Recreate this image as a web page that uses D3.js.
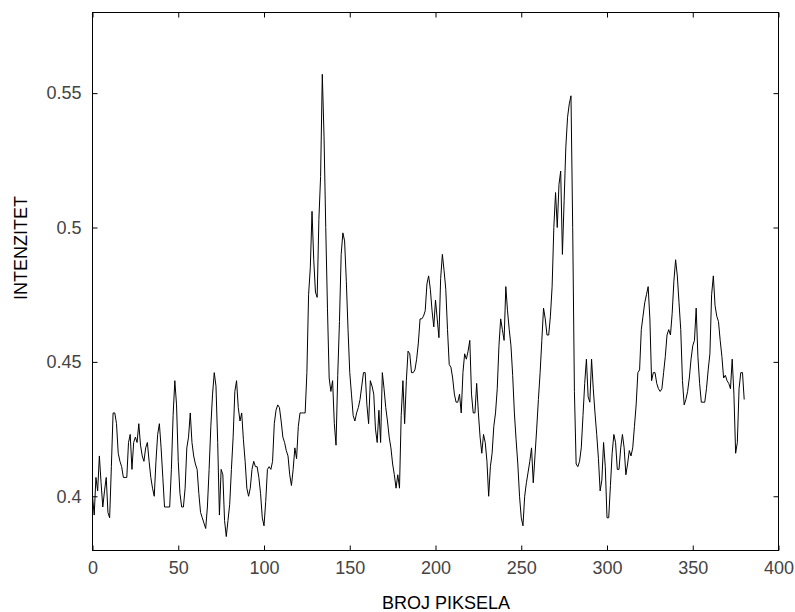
<!DOCTYPE html>
<html>
<head>
<meta charset="utf-8">
<script src="https://cdn.jsdelivr.net/npm/d3@7"></script>
<style>
  body { margin: 0; background: #fff; }
  text { font-family: "Liberation Sans", Arial, sans-serif; }
</style>
</head>
<body>
<svg id="SVG_CONTAINER" width="795" height="612"></svg>
<script>
// intensity profile along the pixel line, index = pixel number
const intensity = [
  0.400, 0.393, 0.407, 0.402, 0.415, 0.405, 0.396, 0.402, 0.407, 0.394,
  0.392, 0.411, 0.431, 0.431, 0.427, 0.416, 0.413, 0.411, 0.407, 0.407,
  0.407, 0.420, 0.423, 0.410, 0.420, 0.422, 0.420, 0.427, 0.419, 0.415,
  0.413, 0.418, 0.420, 0.413, 0.407, 0.403, 0.400, 0.413, 0.423, 0.427,
  0.418, 0.407, 0.396, 0.396, 0.396, 0.396, 0.410, 0.430, 0.443, 0.434,
  0.413, 0.401, 0.396, 0.396, 0.403, 0.418, 0.422, 0.431, 0.420, 0.415,
  0.412, 0.410, 0.401, 0.394, 0.392, 0.390, 0.388, 0.396, 0.410, 0.426,
  0.438, 0.446, 0.441, 0.420, 0.393, 0.410, 0.408, 0.391, 0.385, 0.391,
  0.397, 0.410, 0.422, 0.439, 0.443, 0.433, 0.428, 0.431, 0.421, 0.413,
  0.403, 0.400, 0.403, 0.410, 0.413, 0.411, 0.411, 0.407, 0.401, 0.392,
  0.389, 0.398, 0.410, 0.411, 0.410, 0.413, 0.427, 0.432, 0.434, 0.433,
  0.428, 0.422, 0.420, 0.417, 0.415, 0.408, 0.404, 0.410, 0.418, 0.414,
  0.426, 0.431, 0.431, 0.431, 0.431, 0.446, 0.475, 0.485, 0.506, 0.488,
  0.476, 0.474, 0.503, 0.519, 0.557, 0.534, 0.500, 0.470, 0.444, 0.439,
  0.443, 0.427, 0.419, 0.445, 0.465, 0.490, 0.498, 0.495, 0.480, 0.462,
  0.446, 0.438, 0.430, 0.428, 0.431, 0.433, 0.436, 0.441, 0.446, 0.446,
  0.434, 0.427, 0.443, 0.441, 0.438, 0.425, 0.420, 0.432, 0.420, 0.446,
  0.440, 0.433, 0.428, 0.422, 0.418, 0.412, 0.408, 0.403, 0.408, 0.403,
  0.430, 0.443, 0.427, 0.443, 0.454, 0.453, 0.446, 0.446, 0.447, 0.451,
  0.457, 0.466, 0.466, 0.467, 0.469, 0.479, 0.482, 0.477, 0.469, 0.463,
  0.473, 0.466, 0.459, 0.481, 0.490, 0.484, 0.477, 0.462, 0.449, 0.448,
  0.444, 0.438, 0.435, 0.435, 0.438, 0.431, 0.446, 0.453, 0.451, 0.454,
  0.458, 0.438, 0.431, 0.431, 0.442, 0.431, 0.422, 0.416, 0.423, 0.420,
  0.413, 0.400, 0.411, 0.416, 0.426, 0.431, 0.440, 0.456, 0.466, 0.462,
  0.458, 0.478, 0.469, 0.462, 0.456, 0.445, 0.431, 0.421, 0.412, 0.400,
  0.392, 0.389, 0.400, 0.405, 0.409, 0.413, 0.418, 0.405, 0.415, 0.425,
  0.436, 0.446, 0.458, 0.470, 0.466, 0.460, 0.460, 0.467, 0.478, 0.500,
  0.513, 0.500, 0.516, 0.521, 0.490, 0.510, 0.530, 0.541, 0.546, 0.549,
  0.500, 0.439, 0.412, 0.411, 0.413, 0.418, 0.430, 0.442, 0.451, 0.437,
  0.435, 0.451, 0.440, 0.431, 0.423, 0.414, 0.402, 0.406, 0.420, 0.411,
  0.392, 0.392, 0.404, 0.416, 0.423, 0.420, 0.410, 0.410, 0.418, 0.423,
  0.418, 0.408, 0.412, 0.417, 0.415, 0.418, 0.426, 0.434, 0.446, 0.447,
  0.462, 0.467, 0.472, 0.475, 0.478, 0.466, 0.443, 0.446, 0.446, 0.442,
  0.440, 0.439, 0.440, 0.446, 0.452, 0.460, 0.462, 0.460, 0.468, 0.480,
  0.488, 0.482, 0.472, 0.462, 0.443, 0.434, 0.436, 0.439, 0.444, 0.451,
  0.456, 0.458, 0.470, 0.452, 0.442, 0.435, 0.435, 0.435, 0.440, 0.447,
  0.453, 0.475, 0.482, 0.471, 0.467, 0.465, 0.458, 0.452, 0.444, 0.445,
  0.443, 0.442, 0.440, 0.451, 0.438, 0.416, 0.420, 0.440, 0.446, 0.446,
  0.436
];

const xTicks = [0, 50, 100, 150, 200, 250, 300, 350, 400];
const yTicks = [0.4, 0.45, 0.5, 0.55];
const xLabel = "BROJ PIKSELA";
const yLabel = "INTENZITET";

const BOX = { LEFT: 92.5, RIGHT: 778.5, TOP: 12.5, BOTTOM: 550.5 };

let svg = d3.select("#SVG_CONTAINER");

let xScale = d3.scaleLinear().domain([0, 400]).range([BOX.LEFT, BOX.RIGHT]);
let yScale = d3.scaleLinear().domain([0.38, 0.58]).range([550, BOX.TOP]);

//axes with inward ticks, MATLAB style box
let fmt = d => (d === 0.4 || d === 0.5) ? d3.format(".1f")(d) : d3.format(".2f")(d);

svg.append("g")
    .attr("transform", "translate(0," + BOX.BOTTOM + ")")
    .call(d3.axisBottom(xScale).tickValues(xTicks).tickSizeInner(-5).tickSizeOuter(0).tickPadding(11))
    .call(g => g.select(".domain").remove());

svg.append("g")
    .attr("transform", "translate(0," + BOX.TOP + ")")
    .call(d3.axisTop(xScale).tickValues(xTicks).tickSizeInner(-5).tickSizeOuter(0).tickFormat(""))
    .call(g => g.select(".domain").remove());

svg.append("g")
    .attr("transform", "translate(" + BOX.LEFT + ",0)")
    .call(d3.axisLeft(yScale).tickValues(yTicks).tickSizeInner(-5).tickSizeOuter(0).tickPadding(11).tickFormat(fmt))
    .call(g => g.select(".domain").remove());

svg.append("g")
    .attr("transform", "translate(" + BOX.RIGHT + ",0)")
    .call(d3.axisRight(yScale).tickValues(yTicks).tickSizeInner(-5).tickSizeOuter(0).tickFormat(""))
    .call(g => g.select(".domain").remove());

svg.selectAll(".tick line").attr("stroke", "#000");
svg.selectAll(".tick text")
    .style("font-size", "18px")
    .attr("fill", "#444");

svg.append("rect")
    .attr("x", BOX.LEFT)
    .attr("y", BOX.TOP)
    .attr("width", BOX.RIGHT - BOX.LEFT)
    .attr("height", BOX.BOTTOM - BOX.TOP)
    .attr("fill", "none")
    .attr("stroke", "#000")
    .attr("stroke-width", 1);

//the profile line
let line = d3.line()
    .x((d, i) => xScale(i))
    .y(d => yScale(d));

svg.append("path")
    .datum(intensity)
    .attr("d", line)
    .attr("fill", "none")
    .attr("stroke", "#000")
    .attr("stroke-width", 1);

//axis labels
svg.append("text")
    .attr("x", 446)
    .attr("y", 609)
    .attr("text-anchor", "middle")
    .style("font-size", "18px")
    .text(xLabel);

svg.append("text")
    .attr("transform", "rotate(-90 27 248)")
    .attr("x", 27)
    .attr("y", 248)
    .attr("text-anchor", "middle")
    .style("font-size", "18px")
    .text(yLabel);
</script>
</body>
</html>
